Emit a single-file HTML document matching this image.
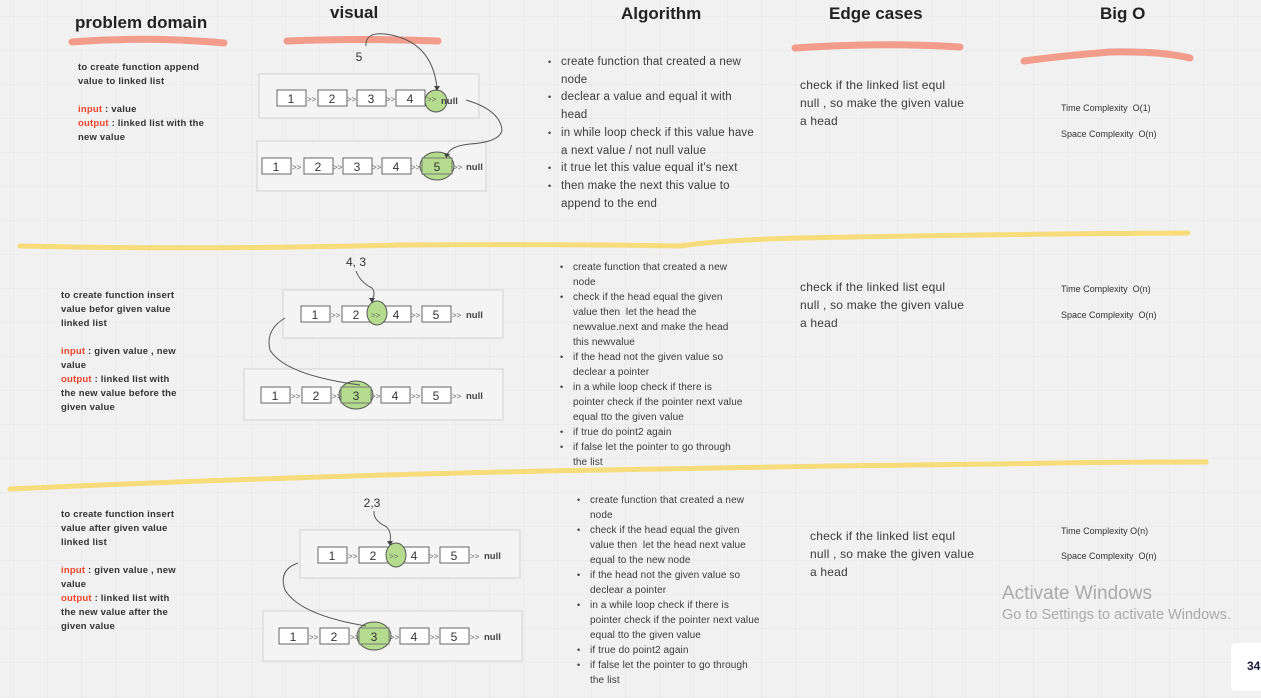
<!DOCTYPE html>
<html><head><meta charset="utf-8"><style>
body{margin:0;width:1261px;height:698px;overflow:hidden;background:#f1f1f1;font-family:"Liberation Sans",sans-serif;position:relative;
background-image:linear-gradient(rgba(0,0,0,0.018) 1px,transparent 1px),linear-gradient(90deg,rgba(0,0,0,0.018) 1px,transparent 1px);background-size:34px 34px;background-position:13px 16px}
.t{position:absolute;color:#333}
h1{position:absolute;margin:0;font-size:17px;font-weight:bold;color:#222}
.pd{font-size:9.5px;font-weight:bold;line-height:14px;color:#333;letter-spacing:0.2px}
.r{color:#f0442a}
ul{margin:0;padding:0;list-style:none}
li{position:relative}
li:before{content:"•";position:absolute;left:-13px;font-size:9px}
.a1{font-size:11.5px;line-height:17.7px;color:#3a3a3a;letter-spacing:0.2px}
.a2{font-size:10px;line-height:15px;color:#3a3a3a;letter-spacing:0.1px}
.ed{font-size:12px;line-height:18px;color:#3a3a3a;letter-spacing:0.2px;white-space:nowrap}
.bo{font-size:9px;color:#333}
</style></head><body>
<svg width="1261" height="698" style="position:absolute;left:0;top:0">
<g stroke="#f29c8c" stroke-width="7" stroke-linecap="round" fill="none">
<path d="M72 42 Q150 36 224 43"/>
<path d="M287 41 Q360 38 438 41"/>
<path d="M795 48 Q880 42 960 47"/>
<path d="M1024 61 Q1060 56 1110 52 Q1160 51 1190 58"/>
</g>
<g stroke="#f6dc7a" stroke-width="5" stroke-linecap="round" fill="none">
<path d="M20 246 Q200 250 400 245 Q560 244 680 246 Q720 240 800 238 Q1000 234 1188 233"/>
<path d="M10 489 Q250 478 500 472 Q800 466 1000 464 Q1100 462 1206 462"/>
</g>
<g fill="#f4f4f4" stroke="#ddd" stroke-width="1.5">
<rect x="259" y="74" width="220" height="44"/>
<rect x="257" y="141" width="229" height="50"/>
<rect x="283" y="290" width="220" height="48"/>
<rect x="244" y="369" width="259" height="51"/>
<rect x="300" y="530" width="220" height="48"/>
<rect x="263" y="611" width="259" height="50"/>
</g>
<g font-family="Liberation Sans,sans-serif" font-size="12" fill="#333" text-anchor="middle">
<g stroke="#666" fill="#fff"><rect x="277" y="90" width="29" height="16"/><rect x="318" y="90" width="29" height="16"/><rect x="357" y="90" width="29" height="16"/><rect x="396" y="90" width="29" height="16"/></g>
<text x="291" y="103">1</text><text x="332" y="103">2</text><text x="371" y="103">3</text><text x="410" y="103">4</text>
<circle cx="436" cy="101" r="11" fill="#b5dc8e" stroke="#555"/>
<g stroke="#666" fill="#fff"><rect x="262" y="158" width="29" height="16"/><rect x="304" y="158" width="29" height="16"/><rect x="343" y="158" width="29" height="16"/><rect x="382" y="158" width="29" height="16"/></g>
<text x="276" y="171">1</text><text x="318" y="171">2</text><text x="357" y="171">3</text><text x="396" y="171">4</text>
<ellipse cx="437" cy="166" rx="17" ry="14" fill="#b5dc8e" stroke="#555"/><rect x="422" y="158" width="30" height="16" fill="none" stroke="#777"/><text x="437" y="171">5</text>
<g stroke="#666" fill="#fff"><rect x="301" y="306" width="29" height="16"/><rect x="342" y="306" width="29" height="16"/><rect x="382" y="306" width="29" height="16"/><rect x="422" y="306" width="29" height="16"/></g>
<text x="315" y="319">1</text><text x="356" y="319">2</text><text x="396" y="319">4</text><text x="436" y="319">5</text>
<ellipse cx="377" cy="313" rx="10" ry="12" fill="#b5dc8e" stroke="#555"/>
<g stroke="#666" fill="#fff"><rect x="261" y="387" width="29" height="16"/><rect x="302" y="387" width="29" height="16"/><rect x="381" y="387" width="29" height="16"/><rect x="422" y="387" width="29" height="16"/></g>
<text x="275" y="400">1</text><text x="316" y="400">2</text><text x="395" y="400">4</text><text x="436" y="400">5</text>
<ellipse cx="356" cy="395" rx="17" ry="14" fill="#b5dc8e" stroke="#555"/><rect x="341" y="387" width="30" height="16" fill="none" stroke="#777"/><text x="356" y="400">3</text>
<g stroke="#666" fill="#fff"><rect x="318" y="547" width="29" height="16"/><rect x="359" y="547" width="29" height="16"/><rect x="400" y="547" width="29" height="16"/><rect x="440" y="547" width="29" height="16"/></g>
<text x="332" y="560">1</text><text x="373" y="560">2</text><text x="414" y="560">4</text><text x="454" y="560">5</text>
<ellipse cx="396" cy="555" rx="10" ry="12" fill="#b5dc8e" stroke="#555"/>
<g stroke="#666" fill="#fff"><rect x="279" y="628" width="29" height="16"/><rect x="320" y="628" width="29" height="16"/><rect x="400" y="628" width="29" height="16"/><rect x="440" y="628" width="29" height="16"/></g>
<text x="293" y="641">1</text><text x="334" y="641">2</text><text x="414" y="641">4</text><text x="454" y="641">5</text>
<ellipse cx="374" cy="636" rx="17" ry="14" fill="#b5dc8e" stroke="#555"/><rect x="359" y="628" width="30" height="16" fill="none" stroke="#777"/><text x="374" y="641">3</text>
<text x="359" y="61">5</text><text x="356" y="266">4, 3</text><text x="372" y="507">2,3</text>
</g>
<g font-family="Liberation Sans,sans-serif" font-size="8" fill="#666">
<text x="307" y="102">&gt;&gt;</text><text x="347" y="102">&gt;&gt;</text><text x="386" y="102">&gt;&gt;</text><text x="427" y="102">&gt;&gt;</text>
<text x="292" y="170">&gt;&gt;</text><text x="333" y="170">&gt;&gt;</text><text x="372" y="170">&gt;&gt;</text><text x="411" y="170">&gt;&gt;</text><text x="453" y="170">&gt;&gt;</text>
<text x="331" y="318">&gt;&gt;</text><text x="371" y="318">&gt;&gt;</text><text x="411" y="318">&gt;&gt;</text><text x="452" y="318">&gt;&gt;</text>
<text x="291" y="399">&gt;&gt;</text><text x="332" y="399">&gt;&gt;</text><text x="371" y="399">&gt;&gt;</text><text x="411" y="399">&gt;&gt;</text><text x="452" y="399">&gt;&gt;</text>
<text x="348" y="559">&gt;&gt;</text><text x="389" y="559">&gt;&gt;</text><text x="429" y="559">&gt;&gt;</text><text x="470" y="559">&gt;&gt;</text>
<text x="309" y="640">&gt;&gt;</text><text x="350" y="640">&gt;&gt;</text><text x="390" y="640">&gt;&gt;</text><text x="430" y="640">&gt;&gt;</text><text x="470" y="640">&gt;&gt;</text>
</g>
<g font-family="Liberation Sans,sans-serif" font-size="9.5" font-weight="bold" fill="#444">
<text x="441" y="104">null</text><text x="466" y="170">null</text><text x="466" y="318">null</text><text x="466" y="399">null</text><text x="484" y="559">null</text><text x="484" y="640">null</text>
</g>
<g stroke="#555" stroke-width="1" fill="none">
<path d="M366 46 Q365 32 385 34 Q432 40 437 88"/>
<path d="M466 100 Q500 110 502 130 Q500 142 470 144 Q450 146 447 155"/>
<path d="M356 271 Q360 282 372 288 Q376 293 372 300"/>
<path d="M285 318 Q265 330 270 350 Q285 375 360 385"/>
<path d="M374 511 Q373 520 385 526 Q392 530 390 543"/>
<path d="M298 563 Q278 570 285 590 Q300 615 366 626"/>
</g>
<g fill="#444">
<path d="M434 86 L440 86 L437 91Z"/><path d="M444 153 L450 154 L446 158Z"/><path d="M369 298 L375 298 L372 303Z"/><path d="M387 541 L393 541 L390 546Z"/>
</g>
</svg>

<h1 style="left:75px;top:13px">problem domain</h1>
<h1 style="left:330px;top:3px">visual</h1>
<h1 style="left:621px;top:4px">Algorithm</h1>
<h1 style="left:829px;top:4px">Edge cases</h1>
<h1 style="left:1100px;top:4px">Big O</h1>

<div class="t pd" style="left:78px;top:61px;width:128px">to create function append value to linked list<br><br><span class="r">input</span> : value<br><span class="r">output</span> : linked list with the new value</div>
<div class="t pd" style="left:61px;top:289px;width:118px">to create function insert value befor given value linked list<br><br><span class="r">input</span> : given value , new value<br><span class="r">output</span> : linked list with the new value before the given value</div>
<div class="t pd" style="left:61px;top:508px;width:118px">to create function insert value after given value linked list<br><br><span class="r">input</span> : given value , new value<br><span class="r">output</span> : linked list with the new value after the given value</div>

<ul class="t a1" style="left:561px;top:54px;width:198px">
<li>create function that created a new node</li><li>declear a value and equal it with head</li><li>in while loop check if this value have a next value / not null value</li><li>it true let this value equal it's next</li><li>then make the next this value to append to the end</li></ul>
<ul class="t a2" style="left:573px;top:260px;width:172px">
<li>create function that created a new node</li><li>check if the head equal the given value then &nbsp;let the head the newvalue.next and make the head this newvalue</li><li>if the head not the given value so declear a pointer</li><li>in a while loop check if there is pointer check if the pointer next value equal tto the given value</li><li>if true do point2 again</li><li>if false let the pointer to go through the list</li></ul>
<ul class="t a2" style="left:590px;top:493px;width:172px">
<li>create function that created a new node</li><li>check if the head equal the given value then &nbsp;let the head next value equal to the new node</li><li>if the head not the given value so declear a pointer</li><li>in a while loop check if there is pointer check if the pointer next value equal tto the given value</li><li>if true do point2 again</li><li>if false let the pointer to go through the list</li></ul>

<div class="t ed" style="left:800px;top:76px">check if the linked list equl<br>null , so make the given value<br>a head</div>
<div class="t ed" style="left:800px;top:278px">check if the linked list equl<br>null , so make the given value<br>a head</div>
<div class="t ed" style="left:810px;top:527px">check if the linked list equl<br>null , so make the given value<br>a head</div>

<div class="t bo" style="left:1061px;top:103px">Time Complexity &nbsp;O(1)</div>
<div class="t bo" style="left:1061px;top:129px">Space Complexity &nbsp;O(n)</div>
<div class="t bo" style="left:1061px;top:284px">Time Complexity &nbsp;O(n)</div>
<div class="t bo" style="left:1061px;top:310px">Space Complexity &nbsp;O(n)</div>
<div class="t bo" style="left:1061px;top:526px">Time Complexity O(n)</div>
<div class="t bo" style="left:1061px;top:551px">Space Complexity &nbsp;O(n)</div>

<div class="t" style="left:1002px;top:583px;font-size:19px;color:#aaa">Activate Windows</div>
<div class="t" style="left:1002px;top:607px;font-size:14.5px;color:#aaa">Go to Settings to activate Windows.</div>
<div style="position:absolute;left:1231px;top:643px;width:40px;height:48px;background:#fff;border-radius:5px"></div>
<div class="t" style="left:1247px;top:659px;font-size:12px;font-weight:bold;color:#1b1b3a">34</div>
</body></html>
